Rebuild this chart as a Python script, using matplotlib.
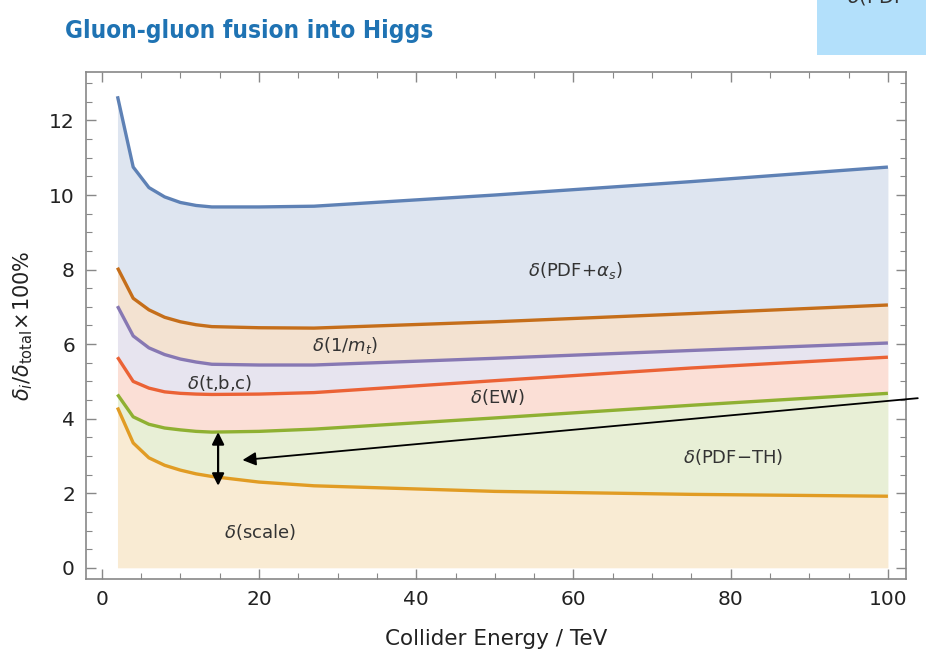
import numpy as np
import matplotlib.pyplot as plt
from matplotlib.patches import Rectangle
from matplotlib.ticker import MultipleLocator

# collider energy in TeV
energy = [2, 4, 6, 8, 10, 12, 14, 20, 27, 50, 75, 100]

# cumulative uncertainty contributions, % of total
pdf_as = [12.65, 10.75, 10.2, 9.95, 9.8, 9.72, 9.68, 9.68, 9.7, 10.0, 10.36, 10.75]
inv_mt = [8.05, 7.23, 6.92, 6.72, 6.6, 6.52, 6.47, 6.44, 6.43, 6.6, 6.82, 7.05]
tbc = [7.02, 6.22, 5.9, 5.72, 5.6, 5.52, 5.46, 5.44, 5.44, 5.62, 5.83, 6.03]
ew = [5.65, 5.0, 4.82, 4.72, 4.68, 4.66, 4.65, 4.66, 4.7, 5.02, 5.36, 5.65]
pdf_th = [4.65, 4.05, 3.85, 3.75, 3.7, 3.66, 3.64, 3.66, 3.72, 4.02, 4.36, 4.68]
scale = [4.3, 3.35, 2.95, 2.75, 2.62, 2.52, 2.45, 2.3, 2.2, 2.05, 1.97, 1.92]

curves = [pdf_as, inv_mt, tbc, ew, pdf_th, scale]
colors = ['#5E81B5', '#C56E1A', '#8778B3', '#EB6235', '#8FB032', '#E19C24']

labels = [r'$\delta$(PDF+$\alpha_s$)', r'$\delta$(1/$m_t$)', r'$\delta$(t,b,c)',
          r'$\delta$(EW)', r'$\delta$(PDF$-$TH)', r'$\delta$(scale)']
label_x = [60.2, 31.0, 15.0, 50.3, 80.3, 20.1]
label_y = [7.98, 5.95, 4.96, 4.58, 2.97, 0.96]

fig = plt.figure(figsize=(9.26, 6.54), dpi=100)
fig.set_facecolor('w')
ax = fig.add_axes([0.0929, 0.1147, 0.8855, 0.7752])

x = np.array(energy)
for i, (ys, c) in enumerate(zip(curves, colors)):
    lower = np.array(curves[i + 1]) if i + 1 < len(curves) else np.zeros(len(x))
    ax.fill_between(x, lower, ys, color=c, alpha=0.2, lw=0)
for ys, c in zip(curves, colors):
    ax.plot(x, ys, color=c, lw=2.4, solid_capstyle='butt')

for s, lx, ly in zip(labels, label_x, label_y):
    ax.text(lx, ly, s, ha='center', va='center', fontsize=13, color='#333333')

# arrows marking the PDF-TH band
ax.annotate('', xy=(14.8, 2.2), xytext=(14.8, 3.64),
            arrowprops=dict(arrowstyle='<|-|>', color='k', lw=1.6, mutation_scale=18,
                            shrinkA=0, shrinkB=0))
ax.annotate('', xy=(17.9, 2.89), xytext=(103.8, 4.55), annotation_clip=False,
            arrowprops=dict(arrowstyle='-|>', color='k', lw=1.3, mutation_scale=20,
                            shrinkA=0, shrinkB=0))

ax.set_xlim(-2, 102.3)
ax.set_ylim(-0.3, 13.3)
ax.xaxis.set_major_locator(MultipleLocator(20))
ax.xaxis.set_minor_locator(MultipleLocator(5))
ax.yaxis.set_major_locator(MultipleLocator(2))
ax.yaxis.set_minor_locator(MultipleLocator(0.5))
ax.tick_params(which='both', direction='in', top=True, right=True, color='#888888')
ax.tick_params(which='major', length=7, width=1, labelsize=14.5, labelcolor='#222222', pad=8)
ax.tick_params(which='minor', length=4, width=0.8)
for sp in ax.spines.values():
    sp.set_color('#888888')
    sp.set_linewidth(1.2)

ax.set_xlabel('Collider Energy / TeV', fontsize=15.5, color='#222222', labelpad=14)
ax.set_ylabel(r'$\delta_i/\delta_{\rm total}\!\times\!100\%$', fontsize=15, color='#222222', labelpad=10)

fig.text(0.07, 0.953, 'Gluon-gluon fusion into Higgs', fontsize=17.5, fontweight='bold',
         fontstretch='condensed', family='DejaVu Sans', color='#1f73b3', va='center')

# note box in the corner
fig.patches.append(Rectangle((0.882, 0.916), 0.118, 0.084, transform=fig.transFigure,
                             facecolor='#b3e0fb', edgecolor='none'))
fig.text(0.915, 1.005, r'$\delta$(PDF', fontsize=14, color='#333333', va='center')

fig.savefig('out.png', dpi=100)
